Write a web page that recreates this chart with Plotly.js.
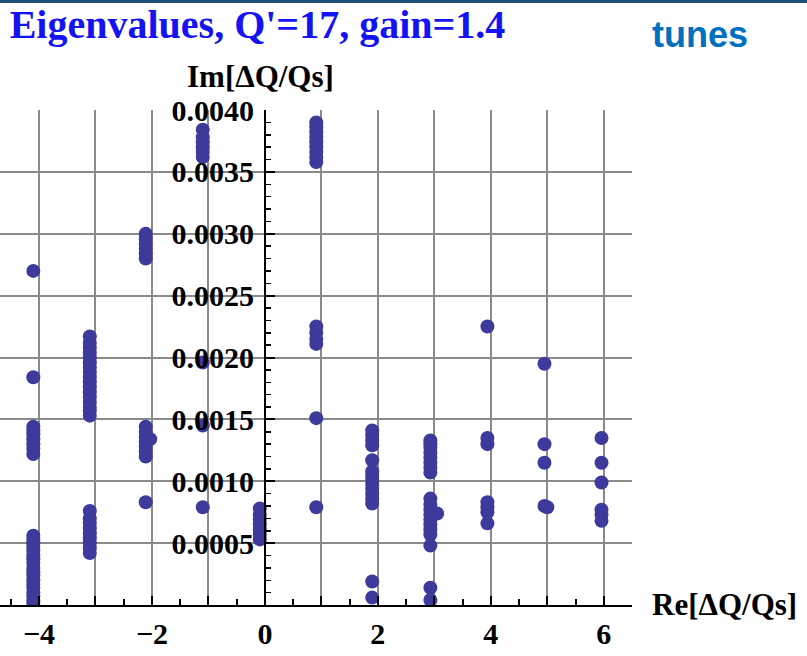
<!DOCTYPE html>
<html>
<head>
<meta charset="utf-8">
<script src="https://cdn.plot.ly/plotly-3.0.1.min.js"></script>
<style>
  html, body { margin: 0; padding: 0; background: #ffffff; }
  #wrap { position: relative; width: 807px; height: 656px; }
  #topbar { position: absolute; left: 0; top: 0; width: 807px; height: 3px; background: #1f4e79; z-index: 5; }
  #chart { position: absolute; left: 0; top: 0; width: 807px; height: 656px; }
</style>
</head>
<body>
<div id="wrap"><div id="topbar"></div><div id="chart"></div></div>
<script>
// ---- data: eigenvalue clusters (Re, Im[ΔQ/Qs]) ----
const reCols = [-4.1, -3.1, -2.11, -1.1, -0.09, 0.91, 1.9, 2.93, 3.94, 4.95, 5.96];

const imColM4 = [0.00270, 0.00184,
  0.00122, 0.00126, 0.00130, 0.00134, 0.00138, 0.00141, 0.00144,
  0.0, 0.00003, 0.00007, 0.00010, 0.00014, 0.00017, 0.00020, 0.00024, 0.00027,
  0.00030, 0.00034, 0.00037, 0.00040, 0.00044, 0.00047, 0.00050, 0.00053, 0.00056];
const imColM3 = [0.00153, 0.00157, 0.00160, 0.00164, 0.00168, 0.00172, 0.00176, 0.00180,
  0.00184, 0.00188, 0.00192, 0.00196, 0.00200, 0.00204, 0.00208, 0.00212, 0.00217,
  0.00042, 0.00046, 0.00050, 0.00054, 0.00058, 0.00062, 0.00066, 0.00070, 0.00076];
const imColM2 = [0.00280, 0.00284, 0.00288, 0.00292, 0.00296, 0.00300,
  0.00120, 0.00124, 0.00128, 0.00132, 0.00136, 0.00140, 0.00144, 0.00083];
const imColM1 = [0.00362, 0.00366, 0.00370, 0.00374, 0.00378, 0.00384,
  0.00196, 0.00145, 0.00079];
const imCol0 = [0.00053, 0.00057, 0.00061, 0.00065, 0.00069, 0.00073, 0.00078];
const imColP1 = [0.00358, 0.00362, 0.00366, 0.00370, 0.00374, 0.00378, 0.00382, 0.00386, 0.00390,
  0.00211, 0.00215, 0.00220, 0.00225, 0.00151, 0.00079];
const imColP2 = [0.00129, 0.00133, 0.00137, 0.00141, 0.00117,
  0.00082, 0.00086, 0.00090, 0.00094, 0.00098, 0.00102, 0.00105, 0.00108,
  0.00019, 0.00006];
const imColP3 = [0.00107, 0.00111, 0.00115, 0.00119, 0.00123, 0.00127, 0.00130, 0.00133,
  0.00057, 0.00061, 0.00065, 0.00069, 0.00073, 0.00077, 0.00081, 0.00086,
  0.00048, 0.00014, 0.00004];
const imColP4 = [0.00225, 0.00130, 0.00135, 0.00075, 0.00079, 0.00083, 0.00066];
const imColP5 = [0.00195, 0.00130, 0.00115, 0.00080];
const imColP6 = [0.00135, 0.00115, 0.00099, 0.00077, 0.00073, 0.00068];

// a few points sitting slightly off their column
const extraRe = [-2.03, 3.05, 5.0];
const extraIm = [0.00134, 0.00074, 0.00079];

const imCols = [imColM4, imColM3, imColM2, imColM1, imCol0, imColP1, imColP2, imColP3, imColP4, imColP5, imColP6];

// ---- axis ticks ----
const xTickVals = [-4, -3, -2, -1, 0, 1, 2, 3, 4, 5, 6];
const xTickText = ['\u22124', '', '\u22122', '', '0', '', '2', '', '4', '', '6'];
const yTickVals = [0.0005, 0.0010, 0.0015, 0.0020, 0.0025, 0.0030, 0.0035, 0.0040];
const yTickText = ['0.0005', '0.0010', '0.0015', '0.0020', '0.0025', '0.0030', '0.0035', '0.0040'];
const yGridVals = [0.0005, 0.0010, 0.0015, 0.0020, 0.0025, 0.0030, 0.0035];

// ---- build trace ----
const xs = [], ys = [];
imCols.forEach((col, i) => col.forEach(v => { xs.push(reCols[i]); ys.push(v); }));
extraRe.forEach((r, i) => { xs.push(r); ys.push(extraIm[i]); });

const xRange = [-4.69, 6.5];
const yRange = [0, 0.004];
const serif = 'Liberation Serif, Times New Roman, serif';

const traces = [
  { type: 'scatter', mode: 'markers', x: xs, y: ys, xaxis: 'x', yaxis: 'y',
    marker: { color: '#3d3a9c', size: 14, line: { width: 0 } },
    hoverinfo: 'x+y', showlegend: false },
  { type: 'scatter', mode: 'markers', x: [], y: [], xaxis: 'x', yaxis: 'y2', showlegend: false }
];

const layout = {
  width: 807, height: 656,
  margin: { l: 0, r: 175, t: 110, b: 51, pad: 0 },
  paper_bgcolor: '#ffffff', plot_bgcolor: '#ffffff',
  showlegend: false,
  title: {
    text: "Eigenvalues, Q'=17, gain=1.4",
    font: { family: serif, size: 40, color: '#1414f2', weight: 'bold' },
    xref: 'container', yref: 'container', x: 0.012, xanchor: 'left',
    y: 1 - 24 / 656, yanchor: 'middle'
  },
  xaxis: {
    range: xRange, anchor: 'y',
    tickmode: 'array', tickvals: xTickVals, ticktext: xTickText,
    ticks: 'inside', ticklen: 9, tickwidth: 2, tickcolor: '#000000',
    tickfont: { family: serif, size: 30, color: '#000000', weight: 'bold' },
    ticklabelstandoff: 1,
    showgrid: true, gridcolor: '#8a8a8a', gridwidth: 2,
    zeroline: false, showline: true, linecolor: '#000000', linewidth: 2,
    minor: { tickmode: 'linear', tick0: 0.5, dtick: 1, ticks: 'inside', ticklen: 6, tickwidth: 2, tickcolor: '#000000', showgrid: false }
  },
  yaxis: {
    range: yRange, anchor: 'free', position: 4.69 / 11.19,
    tickmode: 'array', tickvals: yTickVals, ticktext: yTickText,
    ticks: 'inside', ticklen: 9, tickwidth: 2, tickcolor: '#000000',
    tickfont: { family: serif, size: 30, color: '#000000', weight: 'bold' },
    ticklabelstandoff: 4,
    showgrid: false, zeroline: false,
    showline: true, linecolor: '#000000', linewidth: 2,
    minor: { tickmode: 'linear', tick0: 0, dtick: 0.0001, ticks: 'inside', ticklen: 5, tickwidth: 1.5, tickcolor: '#000000', showgrid: false }
  },
  yaxis2: {
    range: yRange, overlaying: 'y', anchor: 'x', side: 'left',
    tickmode: 'array', tickvals: yGridVals, showticklabels: false, ticks: '',
    showgrid: true, gridcolor: '#8a8a8a', gridwidth: 2,
    zeroline: false, showline: false
  },
  annotations: [
    { text: 'tunes', xref: 'paper', yref: 'paper', x: 700 / 632, y: (605 - 35) / 495,
      xanchor: 'center', yanchor: 'middle', showarrow: false,
      font: { family: 'Liberation Sans, Arial, sans-serif', size: 36, color: '#0070c0', weight: 'bold' } },
    { text: 'Im[\u0394Q/Qs]', xref: 'paper', yref: 'paper', x: 260 / 632, y: (605 - 76) / 495,
      xanchor: 'center', yanchor: 'middle', showarrow: false,
      font: { family: serif, size: 31, color: '#000000', weight: 'bold' } },
    { text: 'Re[\u0394Q/Qs]', xref: 'paper', yref: 'paper', x: 650 / 632, y: (605 - 604) / 495,
      xanchor: 'left', yanchor: 'middle', showarrow: false,
      font: { family: serif, size: 31, color: '#000000', weight: 'bold' } }
  ]
};

Plotly.newPlot('chart', traces, layout, { displayModeBar: false, staticPlot: true });
</script>
</body>
</html>
